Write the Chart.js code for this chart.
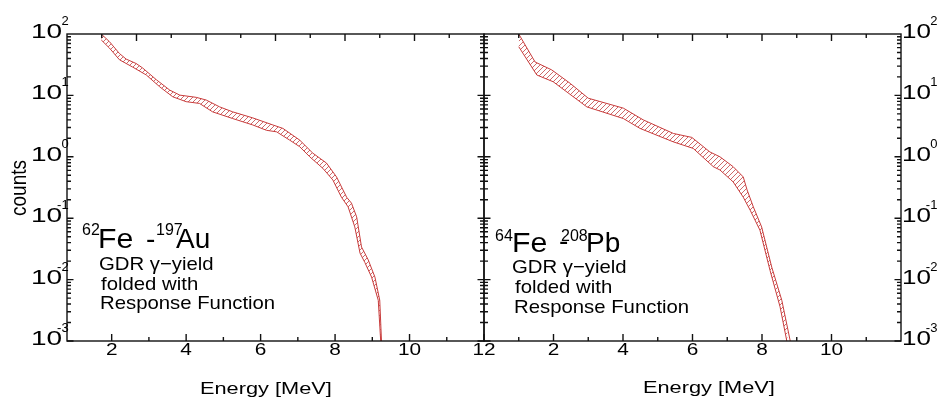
<!DOCTYPE html>
<html>
<head>
<meta charset="utf-8">
<title>GDR gamma yield</title>
<script src="https://cdn.jsdelivr.net/npm/chart.js@4.4.1/dist/chart.umd.min.js"></script>
<style>
  body { margin: 0; background: #fff; }
  #wrap { position: relative; width: 938px; height: 401px; }
  #wrap canvas { position: absolute; left: 0; top: 0; }
</style>
</head>
<body>
<div id="wrap">
  <canvas id="auChart" width="938" height="401"></canvas>
  <canvas id="pbChart" width="938" height="401"></canvas>
</div>
<script>
// 62Fe - 197Au band (energy in MeV, counts)
const auEnergyUpper = [1.72, 1.94, 2.21, 2.39, 2.66, 2.83, 3.20, 3.56, 3.83, 4.27, 4.54, 4.90, 5.25, 5.79, 6.33, 6.60, 7.05, 7.40, 7.77, 8.04, 8.31, 8.44, 8.58, 8.71, 8.89, 9.07, 9.20, 9.25];
const auCountsUpper = [100, 75, 48, 39, 33, 28, 18, 12.2, 10.1, 9.3, 8.4, 6.5, 5.4, 4.3, 3.3, 2.9, 1.87, 1.15, 0.79, 0.47, 0.22, 0.176, 0.105, 0.034, 0.021, 0.011, 0.0046, 0.0009];
const auEnergyLower = [1.72, 1.94, 2.21, 2.56, 2.93, 3.29, 3.64, 4.00, 4.36, 4.71, 5.25, 5.79, 6.16, 6.43, 6.78, 7.05, 7.32, 7.67, 7.94, 8.17, 8.35, 8.53, 8.67, 8.80, 8.98, 9.16, 9.23];
const auCountsLower = [80, 59, 38, 29, 21.5, 13.8, 9.5, 7.9, 7.4, 5.4, 4.2, 3.3, 2.7, 2.55, 1.87, 1.46, 1.0, 0.65, 0.42, 0.22, 0.153, 0.072, 0.027, 0.019, 0.011, 0.0046, 0.0009];

// 64Fe - 208Pb band
const pbEnergyUpper = [1.00, 1.47, 1.95, 2.48, 3.00, 4.01, 4.58, 5.45, 5.98, 6.50, 6.79, 7.17, 7.46, 7.57, 7.75, 7.99, 8.28, 8.57, 8.83];
const pbCountsUpper = [100, 35, 26, 15.7, 9.0, 6.2, 4.0, 2.4, 2.07, 1.2, 1.0, 0.69, 0.47, 0.29, 0.153, 0.072, 0.016, 0.0046, 0.0009];
const pbEnergyLower = [1.00, 1.52, 1.99, 2.96, 4.01, 4.49, 5.45, 6.02, 6.60, 6.79, 7.17, 7.46, 7.66, 7.94, 8.23, 8.52, 8.73];
const pbCountsLower = [62, 21.5, 16.7, 6.5, 4.2, 2.9, 1.75, 1.37, 0.69, 0.61, 0.39, 0.22, 0.135, 0.064, 0.0142, 0.0036, 0.0009];

// axis ticks
const decades = [-3, -2, -1, 0, 1, 2];
const auTickLabels = [2, 4, 6, 8, 10, 12];
const pbTickLabels = [2, 4, 6, 8, 10];
const auBottomTicks = [2, 3, 4, 5, 6, 7, 8, 9, 10, 11, 12];
const topTicks = [1, 2, 3, 4, 5, 6, 7, 8, 9, 10, 11];
const pbBottomTicks = [1, 2, 3, 4, 5, 6, 7, 8, 9, 10, 11];

const FONT = '"Liberation Sans", Arial, sans-serif';
const BAND = 'rgb(200, 60, 60)';
const HATCH = 'rgba(190, 55, 55, 0.75)';

function txt(ctx, s, x, y, size, sx, align) {
  ctx.save();
  ctx.font = size + 'px ' + FONT;
  ctx.fillStyle = '#000';
  ctx.textAlign = align || 'left';
  ctx.textBaseline = 'alphabetic';
  ctx.translate(x, y);
  ctx.scale(sx, 1);
  ctx.fillText(s, 0, 0);
  ctx.restore();
}

function hatch(color) {
  const c = document.createElement('canvas');
  c.width = 5; c.height = 5;
  const g = c.getContext('2d');
  g.strokeStyle = color;
  g.lineWidth = 1;
  g.beginPath();
  g.moveTo(0, 5); g.lineTo(5, 0);
  g.moveTo(-1, 1); g.lineTo(1, -1);
  g.moveTo(4, 6); g.lineTo(6, 4);
  g.stroke();
  return g.createPattern(c, 'repeat');
}

// frame, inward ticks and labels for one panel
function framePlugin(cfg) {
  return {
    id: 'frame',
    afterDatasetsDraw(chart) {
      const { ctx, chartArea: a, scales } = chart;
      const y = scales.y;
      ctx.save();
      ctx.strokeStyle = '#111';
      ctx.lineWidth = 1.4;
      ctx.strokeRect(a.left, a.top, a.right - a.left, a.bottom - a.top);

      ctx.beginPath();
      decades.forEach(d => {
        if (d === 2) return;
        for (let m = 1; m <= 9; m++) {
          const py = y.getPixelForValue(m * Math.pow(10, d));
          const len = m === 1 ? 6.5 : 4;
          ctx.moveTo(a.left, py); ctx.lineTo(a.left + len, py);
          ctx.moveTo(a.right, py); ctx.lineTo(a.right - len, py);
        }
      });
      cfg.bottomTicks.forEach(v => {
        const px = scales.x.getPixelForValue(v);
        const len = v % 2 === 0 ? 7 : 4;
        ctx.moveTo(px, a.bottom); ctx.lineTo(px, a.bottom - len);
      });
      topTicks.forEach(v => {
        const px = scales.xTop.getPixelForValue(v);
        const len = v % 2 === 0 ? 7 : 4;
        ctx.moveTo(px, a.top); ctx.lineTo(px, a.top + len);
      });
      ctx.stroke();
      ctx.restore();

      // decade labels 10^n
      decades.forEach(d => {
        const py = y.getPixelForValue(Math.pow(10, d)) + 4;
        const x0 = cfg.side === 'left' ? 31 : 902;
        const sx = cfg.side === 'left' ? 1.4 : 1.3;
        txt(ctx, '10', x0, py, 20, sx);
        const sup = x0 + 1.068 * 20 * sx + 0.5;
        if (d < 0) txt(ctx, '-', sup - 4.5, py - 13, 13, 1);
        txt(ctx, String(Math.abs(d)), sup, py - 13, 13, 1);
      });

      // energy tick labels
      cfg.tickLabels.forEach(v => {
        txt(ctx, String(v), scales.x.getPixelForValue(v), 355, 16, 1.3, 'center');
      });

      txt(ctx, 'Energy [MeV]', cfg.titleX, cfg.titleY, 17, 1.28);
      cfg.drawLabel(ctx);
    }
  };
}

function bandChart(id, eU, cU, eL, cL, xMin, pad, cfg) {
  return new Chart(document.getElementById(id), {
    type: 'line',
    data: {
      datasets: [
        {
          data: eL.map((e, i) => ({ x: e, y: cL[i] })),
          borderColor: BAND, borderWidth: 1, pointRadius: 0, fill: false
        },
        {
          data: eU.map((e, i) => ({ x: e, y: cU[i] })),
          borderColor: BAND, borderWidth: 1, pointRadius: 0,
          fill: '-1', backgroundColor: hatch(HATCH)
        }
      ]
    },
    options: {
      responsive: false,
      animation: false,
      devicePixelRatio: 1,
      events: [],
      layout: { padding: pad },
      plugins: { legend: { display: false }, tooltip: { enabled: false } },
      scales: {
        x: { type: 'linear', min: xMin, max: 12, display: false },
        xTop: { type: 'linear', min: 0, max: 12, display: false, position: 'top' },
        y: { type: 'logarithmic', min: 1e-3, max: 100, display: false }
      }
    },
    plugins: [framePlugin(cfg)]
  });
}

bandChart('auChart', auEnergyUpper, auCountsUpper, auEnergyLower, auCountsLower, 0.8,
  { left: 67, right: 454, top: 34, bottom: 60 },
  {
    side: 'left', bottomTicks: auBottomTicks, tickLabels: auTickLabels, titleX: 200, titleY: 394,
    drawLabel(ctx) {
      // y axis title
      ctx.save();
      ctx.translate(26, 188);
      ctx.rotate(-Math.PI / 2);
      ctx.scale(1, 1.15);
      ctx.font = '19px ' + FONT;
      ctx.fillStyle = '#000';
      ctx.textAlign = 'center';
      ctx.fillText('counts', 0, 0);
      ctx.restore();

      txt(ctx, '62', 82, 235, 16, 1);
      txt(ctx, 'Fe', 98, 248, 28, 1.08);
      txt(ctx, '-', 146, 248, 28, 1);
      txt(ctx, '197', 156, 235, 16, 1);
      txt(ctx, 'Au', 176, 248, 28, 1);
      txt(ctx, 'GDR \u03b3\u2212yield', 99, 270, 19, 1.07);
      txt(ctx, 'folded with', 101, 290, 19, 1.07);
      txt(ctx, 'Response Function', 100, 309, 19, 1.07);
    }
  });

bandChart('pbChart', pbEnergyUpper, pbCountsUpper, pbEnergyLower, pbCountsLower, 0,
  { left: 484, right: 37, top: 34, bottom: 60 },
  {
    side: 'right', bottomTicks: pbBottomTicks, tickLabels: pbTickLabels, titleX: 643, titleY: 393,
    drawLabel(ctx) {
      txt(ctx, '64', 495, 241, 16, 1);
      txt(ctx, 'Fe', 512, 252, 28, 1.08);
      txt(ctx, '-', 559, 250, 28, 1);
      txt(ctx, '208', 561, 241, 16, 1);
      txt(ctx, 'Pb', 586, 252, 28, 1);
      txt(ctx, 'GDR \u03b3\u2212yield', 512, 273, 19, 1.07);
      txt(ctx, 'folded with', 515, 293, 19, 1.07);
      txt(ctx, 'Response Function', 514, 313, 19, 1.07);
    }
  });
</script>
</body>
</html>
